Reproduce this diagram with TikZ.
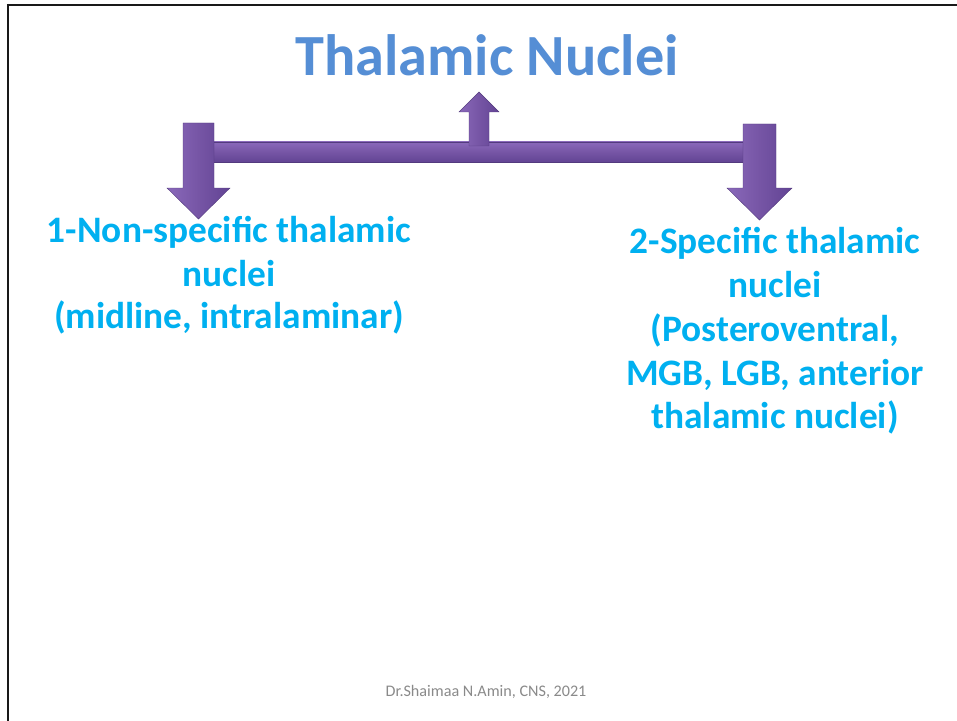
\documentclass[tikz,border=0pt]{standalone}
\usepackage{fontspec}
\setmainfont{Carlito}
\definecolor{titleblue}{HTML}{558ED5}
\definecolor{bodyblue}{HTML}{00B0F0}
\definecolor{footgray}{HTML}{8A8A8A}
\definecolor{purplelight}{HTML}{8A69BA}
\definecolor{purplemid}{HTML}{7655A5}
\definecolor{purpledark}{HTML}{624494}
\tikzset{
  titletext/.style={font=\bfseries\fontsize{58.5}{70}\selectfont, text=titleblue, inner sep=0pt, anchor=base},
  bodytext/.style={font=\bfseries\fontsize{37.5}{45}\selectfont, text=bodyblue, inner sep=0pt, anchor=base},
  foottext/.style={font=\fontsize{16.2}{19}\selectfont, text=footgray, inner sep=0pt, anchor=base},
  vblock/.style={left color=purplelight, right color=purpledark, middle color=purplemid, draw=purpledark!85!black, line width=0.4pt, line join=miter},
  hblock/.style={top color=purplelight, bottom color=purpledark, middle color=purplemid, draw=purpledark!85!black, line width=0.4pt},
  frameline/.style={draw=black!90, line width=2.5pt}
}
\begin{document}
\begin{tikzpicture}[x=1bp,y=-1bp]
\useasboundingbox (0,0) rectangle (957,721);
\fill[white] (0,0) rectangle (957,721);

% slide frame (top and left edges)
\draw[frameline] (6.8,5) -- (957,5);
\draw[frameline] (8,3.8) -- (8,721);

% branching arrow block: horizontal bar, up arrow, two down arrows
\shade[hblock] (210,142) rectangle (747,162);
\shade[vblock] (469,146) -- (469,112) -- (459,112) -- (479,92) -- (499,112) -- (489,112) -- (489,146) -- cycle;
\shade[vblock] (183,123) -- (214,123) -- (214,188) -- (230,188) -- (198.5,219) -- (167,188) -- (183,188) -- cycle;
\shade[vblock] (743,124) -- (776,124) -- (776,188) -- (792,188) -- (759.5,220) -- (727,188) -- (743,188) -- cycle;

% title
\node[titletext] (title) at (487,76) {Thalamic Nuclei};

% left branch
\node[bodytext] (l1) at (229,242) {1-Non-specific thalamic};
\node[bodytext] (l2) at (229,286) {nuclei};
\node[bodytext] (l3) at (229,328) {(midline, intralaminar)};

% right branch
\node[bodytext] (r1) at (775,253) {2-Specific thalamic};
\node[bodytext] (r2) at (775,297) {nuclei};
\node[bodytext] (r3) at (775,341) {(Posteroventral,};
\node[bodytext] (r4) at (775,385) {MGB, LGB, anterior};
\node[bodytext] (r5) at (775,428) {thalamic nuclei)};

% footer
\node[foottext] (foot) at (486,696) {Dr.Shaimaa N.Amin, CNS, 2021};
\end{tikzpicture}
\end{document}
